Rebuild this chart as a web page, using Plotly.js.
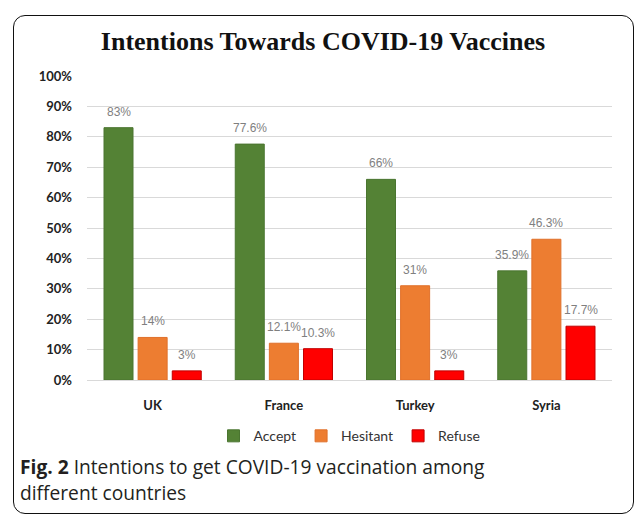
<!DOCTYPE html>
<html>
<head>
<meta charset="utf-8">
<script src="https://cdn.plot.ly/plotly-3.0.1.min.js"></script>
<style>
  html, body { margin: 0; padding: 0; background: #fff; }
  #wrap { position: relative; width: 637px; height: 516px; overflow: hidden; }
  #frame { position: absolute; left: 13px; top: 15px; width: 621px; height: 499px;
           border: 1.5px solid #111; border-radius: 12px; box-sizing: border-box; }
  #chart { position: absolute; left: 0; top: 0; width: 637px; height: 516px; }
  .cap { position: absolute; left: 20px; white-space: nowrap;
         font-family: "Open Sans", sans-serif; font-size: 19.2px; line-height: 26px; color: #231f20; }
</style>
</head>
<body>
<div id="wrap">
  <div id="frame"></div>
  <div id="chart"></div>
  <div class="cap" style="top:454px"><b>Fig. 2</b><span> Intentions to get COVID-19 vaccination among</span></div>
  <div class="cap" style="top:480px">different countries</div>
</div>
<script>
const countries = ["UK", "France", "Turkey", "Syria"];
const accept = [83, 77.6, 66, 35.9];
const hesitant = [14, 12.1, 31, 46.3];
const refuse = [3, 10.3, 3, 17.7];
const seriesNames = ["Accept", "Hesitant", "Refuse"];
const yTicks = [0, 10, 20, 30, 40, 50, 60, 70, 80, 90, 100];

const colors = ["#548235", "#ED7D31", "#FF0000"];
const edges = ["#4a7530", "#e0702a", "#c00000"];
const allVals = [accept, hesitant, refuse];

const data = allVals.map((vals, i) => ({
  type: "bar", name: seriesNames[i], x: countries, y: vals,
  marker: { color: colors[i], line: { color: edges[i], width: 1 } },
  hoverinfo: "skip"
}));

// bar slot width in px, derived from plot width and gaps
const plotW = 637 - 87 - 25, bargap = 0.22;
const slot = plotW / countries.length * (1 - bargap) / 3;
const annotations = [];
allVals.forEach((vals, i) => {
  vals.forEach((v, j) => {
    annotations.push({
      x: countries[j], y: v, xref: "x", yref: "y", text: v + "%", showarrow: false,
      xanchor: "center", yanchor: "bottom", xshift: (i - 1) * slot, yshift: 7,
      font: { family: "Liberation Sans, Arial, sans-serif", size: 12, color: "#7f7f7f" }
    });
  });
});

const layout = {
  width: 637, height: 516,
  margin: { l: 87, r: 25, t: 76, b: 136 },
  paper_bgcolor: "rgba(0,0,0,0)", plot_bgcolor: "rgba(0,0,0,0)",
  title: { text: "<b>Intentions Towards COVID-19 Vaccines</b>",
           font: { family: "Liberation Serif, serif", size: 26, color: "#111" },
           x: 0.507, xanchor: "center", y: 0.92, yanchor: "middle" },
  barmode: "group", bargap: bargap, bargroupgap: 0.15,
  annotations: annotations,
  showlegend: true,
  legend: { orientation: "h", x: 0.5, xanchor: "center", y: -0.185, yanchor: "middle",
            font: { family: "Lato, sans-serif", size: 14, color: "#333" }, itemwidth: 30 },
  xaxis: { showline: false, ticks: "", showgrid: false, zeroline: false, ticklabelstandoff: 16,
           tickfont: { family: "Lato, sans-serif", size: 13, color: "#222", weight: "bold" } },
  yaxis: { range: [0, 100], tickvals: yTicks, ticktext: yTicks.map(v => v + "%"),
           showgrid: true, gridcolor: "#d9d9d9", gridwidth: 1, zeroline: true, zerolinecolor: "#d9d9d9",
           ticks: "", ticklabelstandoff: 14,
           tickfont: { family: "Lato, sans-serif", size: 13, color: "#222", weight: "bold" } }
};
Plotly.newPlot("chart", data, layout, { displayModeBar: false, staticPlot: true });
</script>
</body>
</html>
